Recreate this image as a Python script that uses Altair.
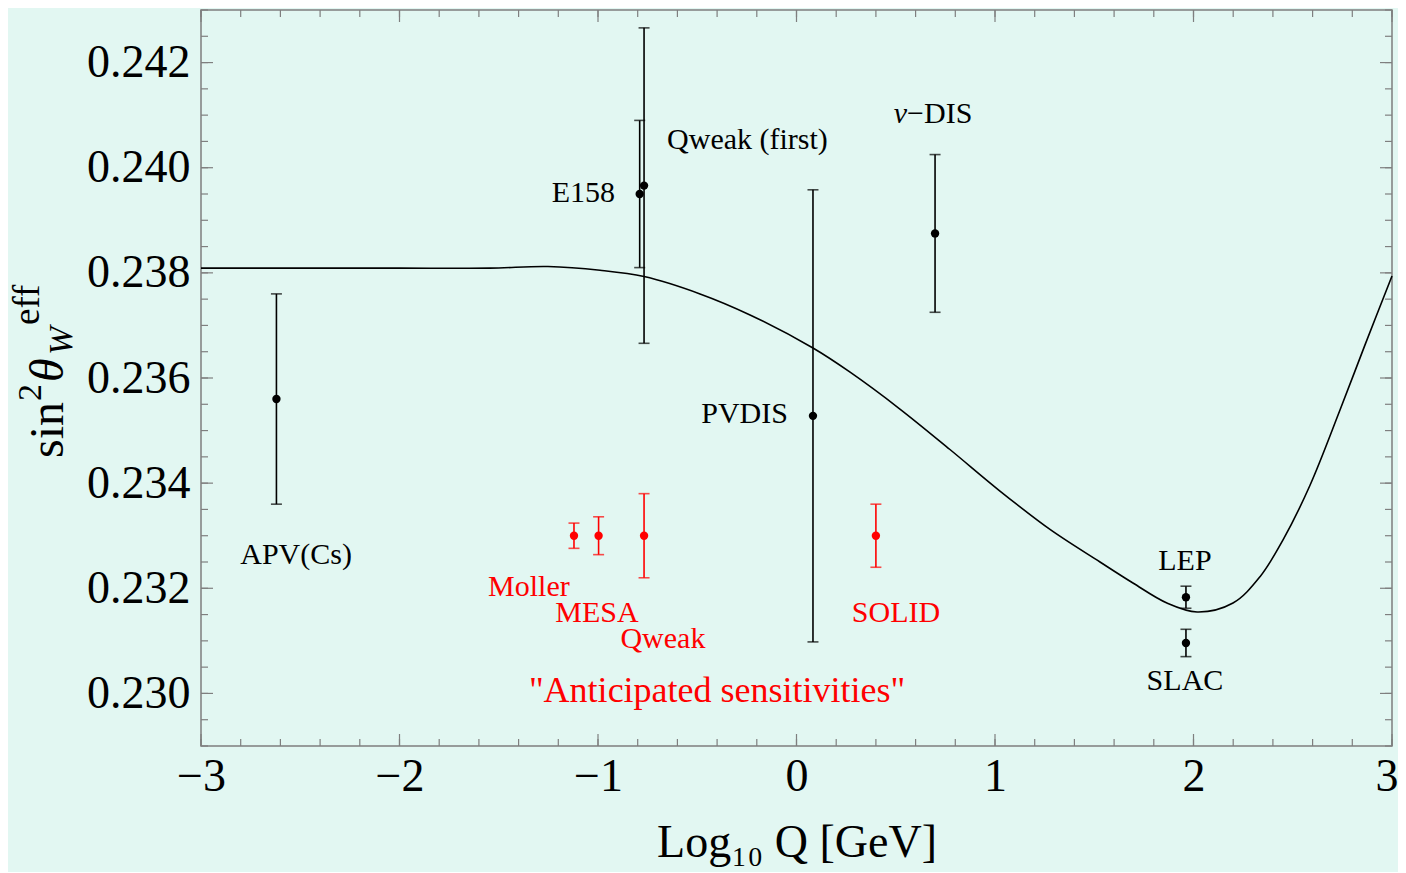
import altair as alt
import pandas as pd

FONT = "Liberation Serif"
BG = "#e2f7f2"
FRAME = "#7f7f7f"
W, H = 1191, 736
X_DOM = [-3, 3]
Y_DOM = [0.229, 0.243]

# running sin^2 theta_W curve
curve_x = [-3.0, -2.5, -2.0, -1.544, -1.252, -0.99, -0.768, -0.486, -0.234, 0.083,
           0.27, 0.521, 0.773, 1.025, 1.277, 1.529, 1.695, 1.866, 2.018, 2.199,
           2.335, 2.451, 2.587, 2.738, 2.864, 3.0]
curve_y = [0.23809, 0.23809, 0.23809, 0.23809, 0.23812, 0.23805, 0.23793, 0.23760, 0.23720, 0.23657,
           0.23611, 0.23541, 0.23464, 0.23385, 0.23312, 0.23250, 0.23210, 0.23172, 0.23155, 0.23172,
           0.23222, 0.23292, 0.23396, 0.23539, 0.23663, 0.23794]

# measurements
exp_name = ["APV(Cs)", "E158", "Qweak (first)", "nu-DIS", "PVDIS", "LEP", "SLAC",
            "Moller", "MESA", "Qweak", "SOLID"]
exp_x = [-2.62, -0.79, -0.768, 0.698, 0.083, 1.962, 1.962, -1.121, -0.997, -0.768, 0.40]
exp_y = [0.2356, 0.2395, 0.23966, 0.23875, 0.23528, 0.23183, 0.23096, 0.2330, 0.2330, 0.2330, 0.2330]
exp_err = [0.0020, 0.0014, 0.0030, 0.0015, 0.0043, 0.00021, 0.00026, 0.00024, 0.00036, 0.0008, 0.0006]
exp_group = ["measured"] * 7 + ["anticipated"] * 4

# annotation labels
label_text = ["APV(Cs)", "E158", "Qweak (first)", "\u2212DIS", "PVDIS", "LEP", "SLAC",
              "Moller", "MESA", "Qweak", "SOLID"]
label_x = [-2.521, -0.914, -0.652, 0.557, -0.043, 1.957, 1.957, -1.348, -1.005, -0.673, 0.501]
label_y = [0.23263, 0.23952, 0.24053, 0.24102, 0.23532, 0.23252, 0.23024, 0.23202, 0.23153, 0.23104, 0.23153]
label_align = ["center", "right", "left", "left", "right", "center", "center",
               "center", "center", "center", "center"]
label_group = ["measured"] * 7 + ["anticipated"] * 4

nu_text = ["\u03bd"]
nu_x = [0.557]
nu_y = [0.24102]

note_text = ['"Anticipated sensitivities"']
note_x = [-0.400]
note_y = [0.230046]

x_major = [-3, -2, -1, 0, 1, 2, 3]
x_minor = [round(-3 + 0.2 * i, 1) for i in range(31)]
y_major = [0.230, 0.232, 0.234, 0.236, 0.238, 0.240, 0.242]
y_minor = [round(0.229 + 0.0005 * i, 4) for i in range(29)]

xs = alt.Scale(domain=X_DOM, nice=False, zero=False)
ys = alt.Scale(domain=Y_DOM, nice=False, zero=False)
x_axis = alt.Axis(values=x_major, format="d", title="Log\u2081\u2080 Q [GeV]",
                  titleY=110, titleBaseline="alphabetic", labelFlush=False,
                  labelAlign={"condition": {"test": "datum.value == 3", "value": "right"},
                              "value": "center"},
                  labelOffset={"condition": {"test": "datum.value == 3", "value": 6},
                               "value": 0})
y_axis = alt.Axis(values=y_major, format=".3f", title="", labelFlush=False)


def X(f):
    return alt.X(f, type="quantitative", scale=xs, axis=x_axis)


def Y(f):
    return alt.Y(f, type="quantitative", scale=ys, axis=y_axis)


color = alt.Color("group:N", scale=alt.Scale(domain=["measured", "anticipated"],
                                              range=["#000000", "#ff0000"]), legend=None)

xmaj = pd.DataFrame({"v": x_major})
xmin = pd.DataFrame({"v": x_minor})
ymaj = pd.DataFrame({"v": y_major})
ymin = pd.DataFrame({"v": y_minor})

layers = []
for df, ln in [(xmin, 7), (xmaj, 12)]:
    layers.append(alt.Chart(df).mark_rule(color=FRAME, strokeWidth=1.2).encode(
        x=X("v"), y=alt.value(H), y2=alt.value(H - ln)))
    layers.append(alt.Chart(df).mark_rule(color=FRAME, strokeWidth=1.2).encode(
        x=X("v"), y=alt.value(0), y2=alt.value(ln)))
for df, ln in [(ymin, 7), (ymaj, 12)]:
    layers.append(alt.Chart(df).mark_rule(color=FRAME, strokeWidth=1.2).encode(
        y=Y("v"), x=alt.value(0), x2=alt.value(ln)))
    layers.append(alt.Chart(df).mark_rule(color=FRAME, strokeWidth=1.2).encode(
        y=Y("v"), x=alt.value(W), x2=alt.value(W - ln)))

curve = pd.DataFrame({"x": curve_x, "y": curve_y})
layers.append(alt.Chart(curve).mark_line(color="#000000", strokeWidth=1.6,
                                         interpolate="catmull-rom").encode(x=X("x"), y=Y("y")))

exp = pd.DataFrame({"name": exp_name, "x": exp_x, "y": exp_y, "err": exp_err, "group": exp_group})
base = alt.Chart(exp).transform_calculate(lo="datum.y - datum.err", hi="datum.y + datum.err")
layers.append(base.mark_rule(strokeWidth=1.6).encode(x=X("x"), y=Y("lo:Q"), y2=alt.Y2("hi:Q"), color=color))
layers.append(base.mark_tick(orient="horizontal", size=11, thickness=1.6).encode(
    x=X("x"), y=Y("hi:Q"), color=color))
layers.append(base.mark_tick(orient="horizontal", size=11, thickness=1.6).encode(
    x=X("x"), y=Y("lo:Q"), color=color))
layers.append(base.mark_circle(size=70, opacity=1).encode(x=X("x"), y=Y("y"), color=color))

labels = pd.DataFrame({"t": label_text, "x": label_x, "y": label_y,
                       "align": label_align, "group": label_group})
for a in ["left", "center", "right"]:
    layers.append(alt.Chart(labels).transform_filter(alt.datum.align == a).mark_text(
        align=a, baseline="middle", font=FONT, fontSize=30).encode(
        x=X("x"), y=Y("y"), text="t:N", color=color))

layers.append(alt.Chart(pd.DataFrame({"t": nu_text, "x": nu_x, "y": nu_y})).mark_text(
    align="right", baseline="middle", font=FONT, fontSize=30, fontStyle="italic", color="#000000").encode(
    x=X("x"), y=Y("y"), text="t:N"))

layers.append(alt.Chart(pd.DataFrame({"t": note_text, "x": note_x, "y": note_y})).mark_text(
    align="center", baseline="middle", font=FONT, fontSize=36, color="#ff0000").encode(
    x=X("x"), y=Y("y"), text="t:N"))

# y-axis title built from parts: sin^2 theta_W^eff
title_parts = [
    ("sin", 48, "normal", 0, 0),
    ("2", 34, "normal", 57, -22),
    ("\u03b8", 48, "italic", 76, 0),
    ("W", 34, "italic", 103, 9),
    ("eff", 37, "normal", 133, -24),
]
for t, fs, st, dx, dy in title_parts:
    layers.append(alt.Chart(pd.DataFrame({"t": [t]})).mark_text(
        align="left", baseline="alphabetic", angle=270, font=FONT, fontSize=fs,
        fontStyle=st, dx=dx, dy=dy, color="#000000").encode(
        x=alt.value(-138), y=alt.value(448), text="t:N"))

chart = alt.layer(*layers).properties(
    width=W, height=H, background=BG,
    autosize=alt.AutoSizeParams(type="none"),
    padding={"left": 193, "top": 2, "right": 6, "bottom": 126},
).configure_view(
    stroke=FRAME, strokeWidth=1.5, fill=BG
).configure_axis(
    domain=False, ticks=False, tickSize=0, grid=False,
    labelFont=FONT, labelFontSize=46, labelColor="#000000",
    titleFont=FONT, titleFontSize=46, titleFontWeight="normal", titleColor="#000000",
).configure_axisX(
    labelPadding=8, labelBaseline="top"
).configure_axisY(
    labelPadding=11
)

chart.save("out.html", embed_options={"renderer": "svg", "actions": False})
